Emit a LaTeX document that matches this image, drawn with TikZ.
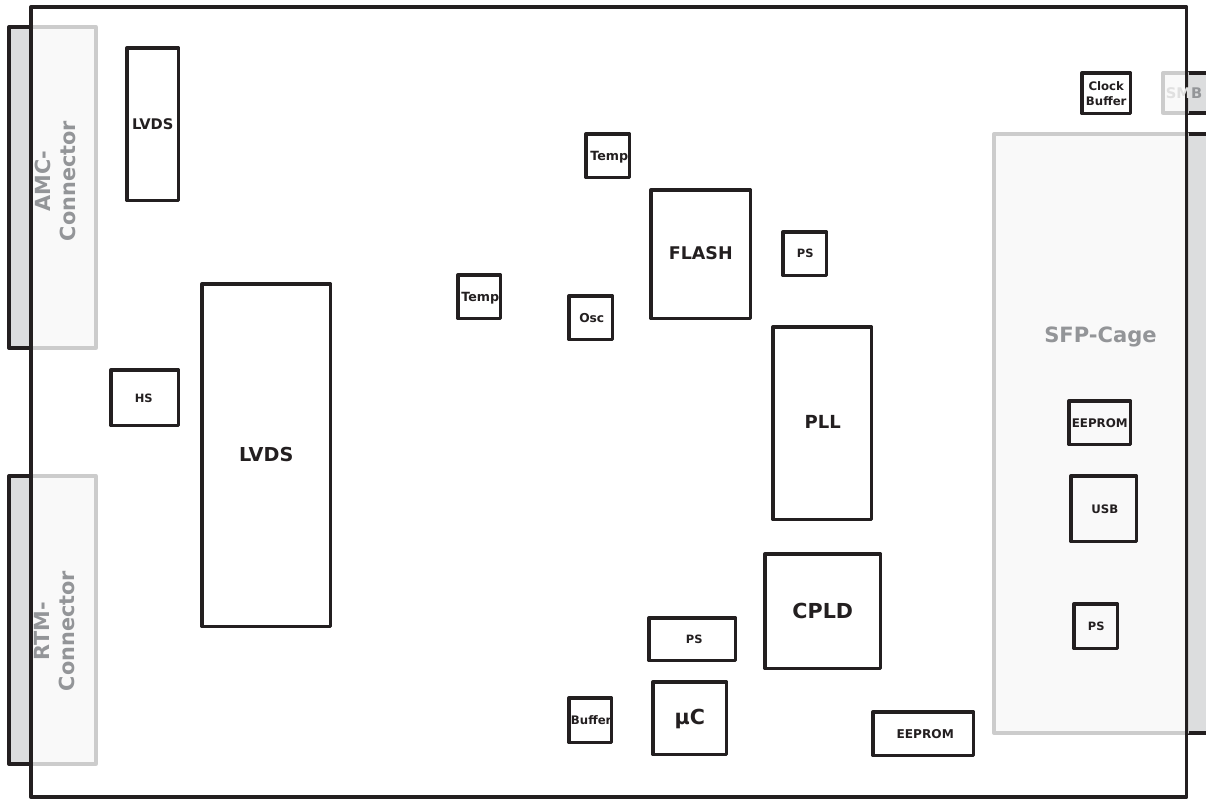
\documentclass[tikz,border=0pt]{standalone}
\usepackage{fontspec}
\setmainfont{DejaVu Sans}
\usetikzlibrary{calc}
\definecolor{ink}{HTML}{231F20}
\definecolor{pale}{HTML}{CCCCCC}
\definecolor{palefill}{HTML}{F9F9F9}
\definecolor{darkfill}{HTML}{DCDDDE}
\definecolor{greytext}{HTML}{939598}
% #1 text style, #2 name, #3-#6 corners, #7,#8 text offset from centre, #9 text
\newcommand\bx[9]{%
  \node[chip, minimum width={(#5-#3-0.5)*0.75pt}, minimum height={(#6-#4-0.5)*0.75pt}] (#2) at ({(#3+#5-0.5)/2},{(#4+#6-0.5)/2}) {};
  \node[chiptext, #1] (#2t) at ($(#2.center)+(#7,#8)$) {#9};}
\tikzset{
  chip/.style={draw=ink, line width=2.5pt, line join=round, inner sep=0pt, outer sep=0pt},
  chiptext/.style={inner sep=0pt, outer sep=0pt, align=center, text=ink},
  lightbox/.style={draw=pale, line width=2.5pt, fill=palefill, line join=round, inner sep=0pt, outer sep=0pt},
  stub/.style={draw=ink, line width=2.5pt, fill=darkfill, line join=round, inner sep=0pt, outer sep=0pt},
  sz/.style={font=\bfseries\fontsize{#1}{11.25}\selectfont},
  label/.style={font=\bfseries\fontsize{15.6}{18.8}\selectfont, text=greytext, align=center},
}
\begin{document}
\begin{tikzpicture}[x=0.75pt,y=-0.75pt]
\useasboundingbox (0,0) rectangle (1206,801);
% connector stubs outside the board
\node[stub, minimum width={22*0.75pt}, minimum height={321*0.75pt}] (amcstub) at (20,187.5) {};
\node[stub, minimum width={22*0.75pt}, minimum height={288*0.75pt}] (rtmstub) at (20,620) {};
\node[stub, minimum width={30*0.75pt}, minimum height={599*0.75pt}] (sfpstub) at (1202,433.5) {};
\node[stub, minimum width={30*0.75pt}, minimum height={40*0.75pt}] (smbstub) at (1202,93) {};
\node[lightbox, minimum width={65*0.75pt}, minimum height={321*0.75pt}] (amc) at (63.5,187.5) {};
\node[lightbox, minimum width={65*0.75pt}, minimum height={288*0.75pt}] (rtm) at (63.5,620) {};
\node[lightbox, minimum width={193*0.75pt}, minimum height={599*0.75pt}] (sfp) at (1090.5,433.5) {};
\node[lightbox, minimum width={24*0.75pt}, minimum height={40*0.75pt}] (smb) at (1175,93) {};
% board
\node[draw=ink, line width=2.5pt, line join=round, outer sep=0pt, inner sep=0pt, minimum width={1155.75*0.75pt}, minimum height={790*0.75pt}] (board) at (608.9,402) {};
% grey labels
\node[label, rotate=90] (amct) at (55,181) {AMC-\\Connector};
\node[label, rotate=90] (rtmt) at (55,631) {RTM-\\Connector};
\node[sz=15.8, text=greytext] (sfpt) at (1100.5,337) {SFP-Cage};
\node[sz=11] (smbt) at (1184,93) {\textcolor{pale!60}{SM}\textcolor{greytext}{B}};
% chips
\bx{sz=11}{lvdsa}{127}{48}{179}{201}{0}{0}{LVDS}
\bx{sz=8.6}{hs}{111}{370}{179}{426}{-1}{1}{HS}
\bx{sz=14.4}{lvdsb}{202}{284}{331}{627}{0}{-1}{LVDS}
\bx{sz=9.5}{tempa}{458}{275}{501}{319}{1}{1}{Temp}
\bx{sz=9.5}{tempb}{586}{134}{630}{178}{1.5}{1}{Temp}
\bx{sz=9.2}{osc}{569}{296}{613}{340}{1}{0}{Osc}
\bx{sz=13.1}{flash}{651}{190}{751}{319}{0}{-1}{FLASH}
\bx{sz=8.6}{psa}{783}{232}{827}{276}{0.5}{0}{PS}
\bx{sz=13.5}{pll}{773}{327}{872}{520}{0.5}{-1.5}{PLL}
\bx{sz=15.5}{cpld}{765}{554}{881}{669}{0}{0}{CPLD}
\bx{sz=8.6}{psb}{649}{618}{736}{661}{2}{0}{PS}
\bx{sz=8.8}{buffer}{569}{698}{612}{743}{1}{0}{Buffer}
\bx{sz=15.5}{uc}{653}{682}{727}{755}{0}{0.5}{µC}
\bx{sz=9.1}{eepa}{873}{712}{974}{756}{2}{0}{EEPROM}
\bx{sz=8.8}{clock}{1082}{73}{1131}{114}{0}{0.5}{Clock\\Buffer}
\bx{sz=8.9}{eepb}{1069}{401}{1131}{445}{0}{0}{EEPROM}
\bx{sz=8.8}{usb}{1071}{476}{1137}{542}{1}{0}{USB}
\bx{sz=8.6}{psc}{1074}{604}{1118}{649}{0.5}{0}{PS}
\end{tikzpicture}
\end{document}
